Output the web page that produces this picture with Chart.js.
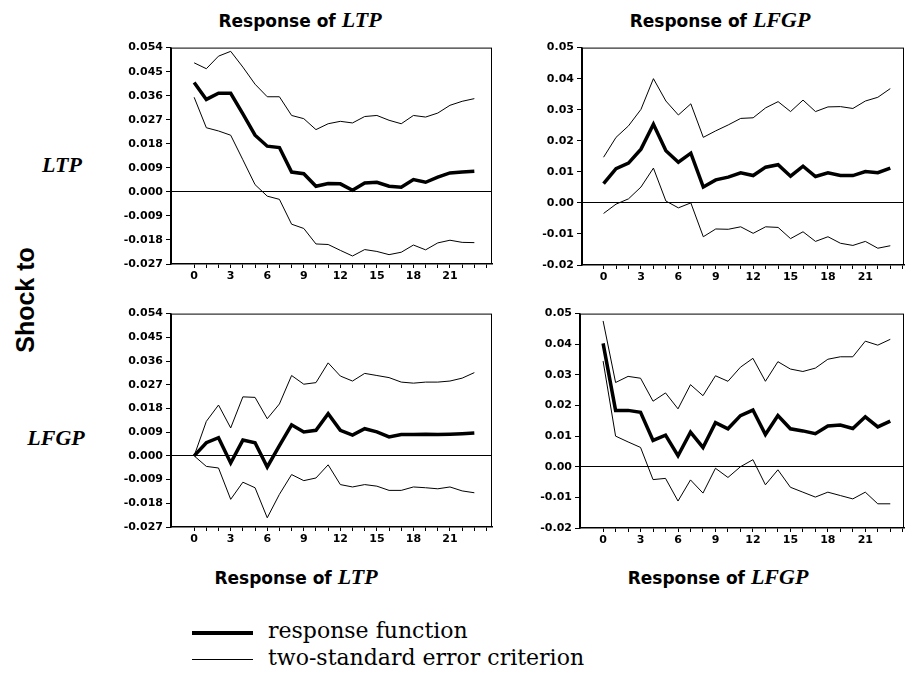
<!DOCTYPE html>
<html>
<head>
<meta charset="utf-8">
<script src="https://cdn.jsdelivr.net/npm/chart.js@4.4.0/dist/chart.umd.min.js"></script>
<style>
  html, body { margin: 0; padding: 0; background: #fff; overflow: hidden; }
  #page { position: relative; width: 906px; height: 685px; }
  .panel { position: absolute; }
  .txt { position: absolute; white-space: nowrap; transform: translate(-50%, -50%); color: #000; }
  .title { font: bold 17px "DejaVu Sans", sans-serif; }
  .ital { font: italic bold 22px "Liberation Serif", serif; }
  .shock { font: bold 25px "Liberation Sans", sans-serif; transform: translate(-50%, -50%) rotate(-90deg); }
  .legend { position: absolute; font: 22px "DejaVu Serif", serif; white-space: nowrap; }
  .swatch { position: absolute; background: #000; }
</style>
</head>
<body>
<div id="page">
  <div class="txt title" style="left:300px; top:20px;">Response of <span class="ital">LTP</span></div>
  <div class="txt title" style="left:720px; top:20px;">Response of <span class="ital">LFGP</span></div>
  <div class="txt title" style="left:296px; top:577px;">Response of <span class="ital">LTP</span></div>
  <div class="txt title" style="left:718px; top:577px;">Response of <span class="ital">LFGP</span></div>
  <div class="txt ital" style="left:62px; top:165px;">LTP</div>
  <div class="txt ital" style="left:56px; top:438px;">LFGP</div>
  <div class="txt shock" style="left:25px; top:300px;">Shock to</div>

  <div class="swatch" style="left:192px; top:631px; width:61px; height:4px;"></div>
  <div class="legend" style="left:268px; top:618px;">response function</div>
  <div class="swatch" style="left:192px; top:659px; width:61px; height:1px;"></div>
  <div class="legend" style="left:268px; top:645px;">two-standard error criterion</div>
</div>
<script>
// impulse horizon (periods after the shock)
const horizon = [0, 1, 2, 3, 4, 5, 6, 7, 8, 9, 10, 11, 12, 13, 14, 15, 16, 17, 18, 19, 20, 21, 22, 23];
const horizonTicks = [0, 1, 2, 3, 4, 5, 6, 7, 8, 9, 10, 11, 12, 13, 14, 15, 16, 17, 18, 19, 20, 21, 22, 23, 24];

// y tick labels
const ltpTicks = [-0.027, -0.018, -0.009, 0, 0.009, 0.018, 0.027, 0.036, 0.045, 0.054];
const lfgpTicks = [-0.02, -0.01, 0, 0.01, 0.02, 0.03, 0.04, 0.05];

// response of LTP to a shock to LTP
const ltpLtpResp = [0.0409, 0.0346, 0.0369, 0.0369, 0.0292, 0.0212, 0.0171, 0.0166, 0.0074, 0.0068, 0.0021, 0.0031, 0.0030, 0.0006, 0.0033, 0.0036, 0.0021, 0.0017, 0.0046, 0.0036, 0.0055, 0.0071, 0.0074, 0.0077];
const ltpLtpUpper = [0.0483, 0.0461, 0.0508, 0.0526, 0.0467, 0.0403, 0.0356, 0.0356, 0.0286, 0.0274, 0.0233, 0.0255, 0.0264, 0.0258, 0.0282, 0.0286, 0.0268, 0.0255, 0.0286, 0.0280, 0.0295, 0.0324, 0.0339, 0.0349];
const ltpLtpLower = [0.0354, 0.0240, 0.0228, 0.0212, 0.0120, 0.0027, -0.0016, -0.0028, -0.0121, -0.0137, -0.0195, -0.0197, -0.0219, -0.0240, -0.0216, -0.0223, -0.0235, -0.0226, -0.0199, -0.0217, -0.0191, -0.0181, -0.0189, -0.0190];

// response of LFGP to a shock to LTP
const lfgpLtpResp = [0.0062, 0.0110, 0.0128, 0.0173, 0.0253, 0.0168, 0.0131, 0.0160, 0.0051, 0.0074, 0.0083, 0.0097, 0.0088, 0.0115, 0.0123, 0.0086, 0.0118, 0.0085, 0.0097, 0.0088, 0.0088, 0.0101, 0.0097, 0.0112];
const lfgpLtpUpper = [0.0147, 0.0211, 0.0248, 0.0301, 0.0400, 0.0328, 0.0283, 0.0319, 0.0211, 0.0232, 0.0251, 0.0272, 0.0274, 0.0306, 0.0326, 0.0294, 0.0331, 0.0294, 0.0309, 0.0310, 0.0304, 0.0328, 0.0340, 0.0368];
const lfgpLtpLower = [-0.0034, -0.0004, 0.0013, 0.0051, 0.0112, 0.0006, -0.0016, 0.0000, -0.0109, -0.0084, -0.0085, -0.0077, -0.0098, -0.0077, -0.0079, -0.0115, -0.0093, -0.0124, -0.0109, -0.0130, -0.0137, -0.0124, -0.0146, -0.0138];

// response of LTP to a shock to LFGP
const ltpLfgpResp = [0.0000, 0.0050, 0.0069, -0.0027, 0.0060, 0.0050, -0.0042, 0.0039, 0.0118, 0.0091, 0.0097, 0.0160, 0.0097, 0.0079, 0.0103, 0.0091, 0.0072, 0.0081, 0.0081, 0.0082, 0.0081, 0.0082, 0.0084, 0.0087];
const ltpLfgpUpper = [0.0000, 0.0131, 0.0193, 0.0106, 0.0224, 0.0222, 0.0141, 0.0197, 0.0305, 0.0272, 0.0278, 0.0353, 0.0303, 0.0284, 0.0313, 0.0305, 0.0297, 0.0280, 0.0276, 0.0280, 0.0280, 0.0284, 0.0295, 0.0316];
const ltpLfgpLower = [0.0000, -0.0040, -0.0046, -0.0165, -0.0100, -0.0121, -0.0235, -0.0146, -0.0071, -0.0094, -0.0084, -0.0034, -0.0109, -0.0118, -0.0109, -0.0115, -0.0131, -0.0131, -0.0118, -0.0121, -0.0125, -0.0118, -0.0133, -0.0140];

// response of LFGP to a shock to LFGP
const lfgpLfgpResp = [0.0403, 0.0184, 0.0184, 0.0178, 0.0086, 0.0103, 0.0036, 0.0113, 0.0063, 0.0144, 0.0124, 0.0167, 0.0185, 0.0105, 0.0167, 0.0124, 0.0117, 0.0108, 0.0133, 0.0136, 0.0125, 0.0163, 0.0130, 0.0149];
const lfgpLfgpUpper = [0.0476, 0.0275, 0.0295, 0.0289, 0.0214, 0.0241, 0.0189, 0.0268, 0.0232, 0.0297, 0.0279, 0.0325, 0.0354, 0.0279, 0.0343, 0.0319, 0.0311, 0.0322, 0.0351, 0.0359, 0.0359, 0.0410, 0.0397, 0.0416];
const lfgpLfgpLower = [0.0345, 0.0100, 0.0081, 0.0063, -0.0042, -0.0038, -0.0112, -0.0043, -0.0086, -0.0005, -0.0035, 0.0000, 0.0023, -0.0059, -0.0010, -0.0067, -0.0083, -0.0099, -0.0083, -0.0094, -0.0105, -0.0083, -0.0121, -0.0121];

// box around the plotting area, top/right edges
const framePlugin = {
  id: 'frame',
  afterDraw(chart) {
    const { ctx, chartArea: a } = chart;
    ctx.save();
    ctx.strokeStyle = '#000';
    ctx.lineWidth = 1;
    ctx.strokeRect(a.left + 0.5, a.top + 0.5, a.right - a.left - 1, a.bottom - a.top - 1);
    ctx.restore();
  }
};

const AXIS_W = 80, AXIS_H = 30, PAD_T = 8, PAD_R = 3;

function makePanel(box, xMin, xMax, yTicks, digits, resp, upper, lower) {
  const wrap = document.createElement('div');
  wrap.className = 'panel';
  const w = box.right - box.left + AXIS_W + PAD_R;
  const h = box.bottom - box.top + PAD_T + AXIS_H;
  wrap.style.left = (box.left - AXIS_W) + 'px';
  wrap.style.top = (box.top - PAD_T) + 'px';
  wrap.style.width = w + 'px';
  wrap.style.height = h + 'px';
  const canvas = document.createElement('canvas');
  canvas.width = w;
  canvas.height = h;
  wrap.appendChild(canvas);
  document.getElementById('page').appendChild(wrap);

  const pts = (vals) => horizon.map((t, i) => ({ x: t, y: vals[i] }));
  const thin = { borderColor: '#000', borderWidth: 1, pointRadius: 0, tension: 0, fill: false };

  new Chart(canvas.getContext('2d'), {
    type: 'line',
    data: {
      datasets: [
        { label: 'response function', data: pts(resp), borderColor: '#000', borderWidth: 3.5, pointRadius: 0, tension: 0, fill: false },
        { label: 'upper', data: pts(upper), ...thin },
        { label: 'lower', data: pts(lower), ...thin }
      ]
    },
    plugins: [framePlugin],
    options: {
      responsive: false,
      animation: false,
      events: [],
      layout: { padding: { top: PAD_T, right: PAD_R, left: 0, bottom: 0 } },
      plugins: { legend: { display: false }, tooltip: { enabled: false } },
      scales: {
        x: {
          type: 'linear',
          min: xMin,
          max: xMax,
          afterBuildTicks: (s) => { s.ticks = horizonTicks.map(v => ({ value: v })); },
          afterFit: (s) => { s.height = AXIS_H; },
          border: { display: true, color: '#000', width: 1.5 },
          grid: { drawOnChartArea: false, drawTicks: true, tickLength: 4, tickColor: '#000' },
          ticks: {
            autoSkip: false,
            maxRotation: 0,
            padding: 2,
            color: '#000',
            font: { family: 'DejaVu Sans', size: 11, weight: 'bold' },
            callback: (v) => (v % 3 === 0 && v <= 21) ? String(v) : ''
          }
        },
        y: {
          min: yTicks[0],
          max: yTicks[yTicks.length - 1],
          afterBuildTicks: (s) => { s.ticks = yTicks.map(v => ({ value: v })); },
          afterFit: (s) => { s.width = AXIS_W; },
          border: { display: true, color: '#000', width: 1.5 },
          grid: {
            drawOnChartArea: true,
            drawTicks: true,
            tickLength: 5,
            tickColor: '#000',
            lineWidth: 1,
            color: (c) => (c.tick && c.tick.value === 0) ? '#000' : 'rgba(0,0,0,0)'
          },
          ticks: {
            padding: 3,
            color: '#000',
            font: { family: 'DejaVu Sans', size: 11, weight: 'bold' },
            callback: (v) => Number(v).toFixed(digits)
          }
        }
      }
    }
  });
}

makePanel({ left: 171, top: 46, right: 492, bottom: 264 }, -1.9, 24.45, ltpTicks, 3, ltpLtpResp, ltpLtpUpper, ltpLtpLower);
makePanel({ left: 582, top: 46, right: 904, bottom: 265 }, -1.73, 24.1, lfgpTicks, 2, lfgpLtpResp, lfgpLtpUpper, lfgpLtpLower);
makePanel({ left: 171, top: 312, right: 492, bottom: 527 }, -1.9, 24.45, ltpTicks, 3, ltpLfgpResp, ltpLfgpUpper, ltpLfgpLower);
makePanel({ left: 580, top: 312, right: 904, bottom: 528 }, -1.85, 24.1, lfgpTicks, 2, lfgpLfgpResp, lfgpLfgpUpper, lfgpLfgpLower);
</script>
</body>
</html>
